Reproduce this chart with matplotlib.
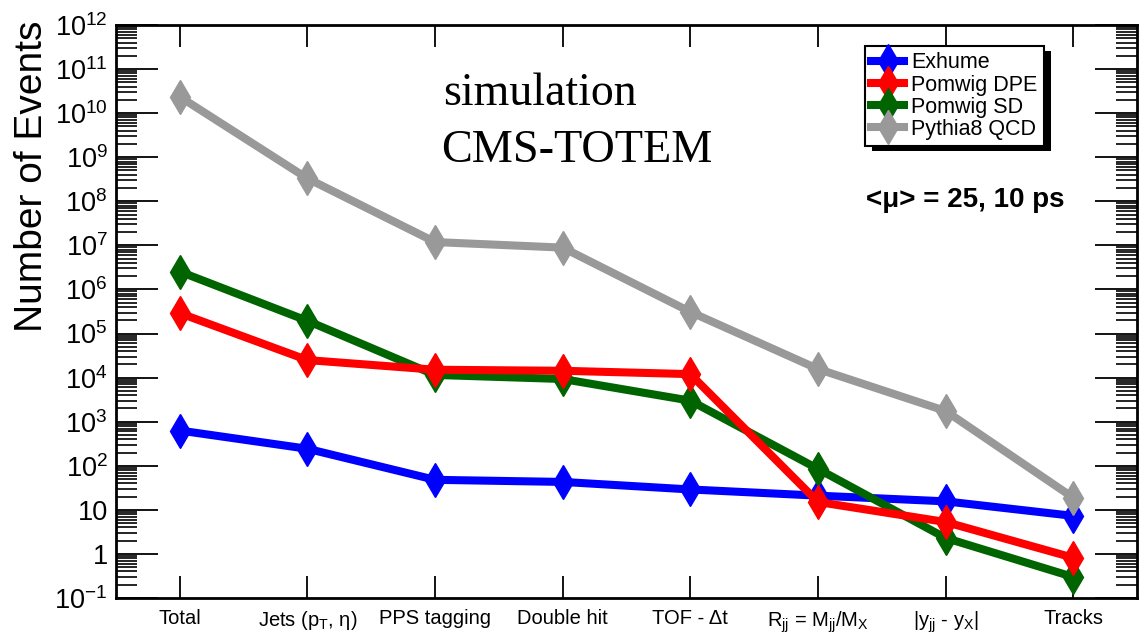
import numpy as np
import matplotlib
matplotlib.use("Agg")
import matplotlib.pyplot as plt
from matplotlib.ticker import FixedLocator, LogLocator, NullFormatter, FuncFormatter
from matplotlib.patches import Rectangle
from matplotlib.transforms import IdentityTransform

plt.rcParams['font.family'] = ['Liberation Sans', 'DejaVu Sans']
plt.rcParams['mathtext.fontset'] = 'custom'
plt.rcParams['mathtext.rm'] = 'Liberation Sans'
plt.rcParams['mathtext.it'] = 'Liberation Sans'
plt.rcParams['mathtext.default'] = 'regular'

categories = ['Total', 'Jets (p$_T$, η)', 'PPS tagging', 'Double hit', 'TOF - Δt',
              'R$_{jj}$ = M$_{jj}$/M$_X$', '|y$_{jj}$ - y$_X$|', 'Tracks']
exhume = [630, 243, 48, 43, 29, 21, 15.6, 7.3]
pomwig_dpe = [2.9e5, 2.5e4, 1.51e4, 1.43e4, 1.2e4, 15.1, 5.3, 0.82]
pomwig_sd = [2.54e6, 1.94e5, 1.15e4, 9.3e3, 3.0e3, 85, 2.3, 0.30]
pythia_qcd = [2.35e10, 3.3e8, 1.19e7, 8.9e6, 3.1e5, 1.57e4, 1.75e3, 18.9]

series = [("Exhume", exhume, "#0000ff", 2),
          ("Pomwig DPE", pomwig_dpe, "#ff0000", 4),
          ("Pomwig SD", pomwig_sd, "#006400", 3),
          ("Pythia8 QCD", pythia_qcd, "#999999", 5)]

fig = plt.figure(figsize=(11.44, 6.38), dpi=100)
ax = fig.add_axes([116/1144, 1-598/638, (1137-116)/1144, (598-25)/638])

x = np.arange(len(categories))
for name, vals, col, z in series:
    ax.plot(x, vals, color=col, lw=5.8, marker='d', ms=17, mec=col, mfc=col,
            label=name, solid_joinstyle='miter', zorder=z)

ax.set_yscale('log')
ax.set_ylim(1e-1, 1e12)
ax.set_xlim(-0.5, 7.5)

ax.set_xticks(x)
ax.set_xticklabels(categories, fontsize=14.5)
ax.yaxis.set_major_locator(FixedLocator([10.0**k for k in range(-1, 13)]))
ax.yaxis.set_minor_locator(LogLocator(base=10, subs=np.arange(2, 10), numticks=100))
ax.yaxis.set_minor_formatter(NullFormatter())

def fmt(v, pos):
    k = int(round(np.log10(v)))
    if k == 0:
        return '1'
    if k == 1:
        return '10'
    return '$10^{%d}$' % k
ax.yaxis.set_major_formatter(FuncFormatter(fmt))
ax.tick_params(axis='y', which='major', direction='in', length=30, width=1.3,
               labelsize=19.5, right=True, left=True, pad=6)
ax.tick_params(axis='y', which='minor', direction='in', length=15, width=1.2,
               right=True, left=True)
ax.tick_params(axis='x', which='major', direction='in', length=16, width=1.3,
               top=True, bottom=True, pad=8)
for s in ax.spines.values():
    s.set_linewidth(2.0)

fig.text(32/1144, 1-176/638, 'Number of Events', rotation=90, ha='center', va='center',
         fontsize=28)

fig.text(443/1144, 1-105/638, 'simulation',
         family=['Liberation Serif'], fontsize=33, ha='left', va='baseline')
fig.text(441/1144, 1-162/638, 'CMS-TOTEM',
         family=['Liberation Serif'], fontsize=33.3, ha='left', va='baseline')
fig.text(965/1144, 1-200/638, '<μ> = 25, 10 ps',
         fontsize=20, fontweight='bold', ha='center', va='center')

leg = ax.legend(loc='upper left', bbox_to_anchor=(865/1144, 1-46/638),
                bbox_transform=fig.transFigure, fontsize=15.5, frameon=True,
                fancybox=False, edgecolor='black', framealpha=1,
                handlelength=1.5, handletextpad=0.35, labelspacing=0.05,
                borderpad=0.3, borderaxespad=0)
leg.get_frame().set_linewidth(1.5)
leg.set_zorder(10)

fig.canvas.draw()
bb = leg.get_window_extent()
shadow = Rectangle((bb.x0 + 7, bb.y0 - 5), bb.width, bb.height,
                   transform=IdentityTransform(),
                   facecolor='black', edgecolor='none', zorder=9, clip_on=False)
ax.add_patch(shadow)

fig.savefig('out.png', dpi=100)
